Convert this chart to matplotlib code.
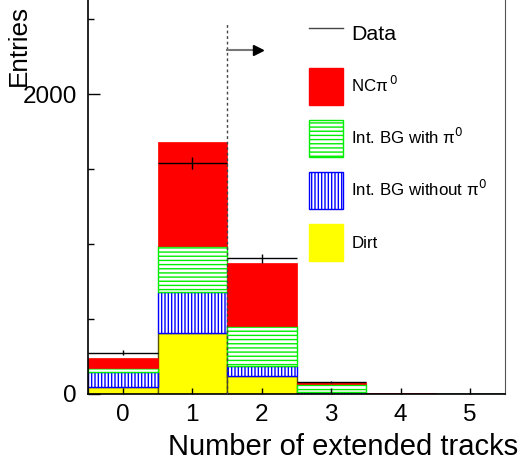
import matplotlib
matplotlib.use("Agg")
import matplotlib.pyplot as plt
from matplotlib.ticker import MultipleLocator
from matplotlib.lines import Line2D
from matplotlib.patches import Patch

plt.rcParams['font.family'] = ['Liberation Sans', 'DejaVu Sans']

# ---- data ----
n_tracks = [0, 1, 2, 3, 4, 5]
dirt = [49, 409, 120, 2, 0, 0]
bg_without_pi0 = [100, 273, 67, 11, 0, 0]
bg_with_pi0 = [26, 307, 266, 51, 0, 0]
nc_pi0 = [63, 691, 422, 14, 6, 0]
data_vals = [275, 1540, 904, 80, 2, 0]
data_err = [17, 39, 30, 9, 1, 0]
cut_value = 1.5

legend_labels = ["Data", "NCπ$^{\\,0}$", "Int. BG with π$^{0}$", "Int. BG without π$^{0}$", "Dirt"]

fig = plt.figure(figsize=(5.2, 4.67), dpi=100)
ax = fig.add_axes([88/520, 73/467, 417/520, 394/467])

b0 = dirt
b1 = [a + b for a, b in zip(b0, bg_without_pi0)]
b2 = [a + b for a, b in zip(b1, bg_with_pi0)]

ax.bar(n_tracks, dirt, width=1.0, color='#ffff00', edgecolor='#555500', linewidth=1.0)
ax.bar(n_tracks, bg_without_pi0, bottom=b0, width=1.0, color='white',
       edgecolor='#0000ff', hatch='|||||', linewidth=1.0)
ax.bar(n_tracks, bg_with_pi0, bottom=b1, width=1.0, color='white',
       edgecolor='#00ee00', hatch='----', linewidth=1.0)
ax.bar(n_tracks, nc_pi0, bottom=b2, width=1.0, color='#ff0000',
       edgecolor='#ff0000', linewidth=0.5)

ax.errorbar(n_tracks, data_vals, xerr=0.5, yerr=data_err, fmt='none',
            ecolor='black', elinewidth=1.0, capsize=0, zorder=5)

# cut line and arrow
ax.plot([cut_value, cut_value], [0, 2480], color='#444444', linestyle=(0, (2, 2)),
        linewidth=1.0, zorder=6)
ax.plot([cut_value, cut_value + 0.40], [2293, 2293], color='#777777', linewidth=1.5, zorder=6)
ax.plot([cut_value + 0.45], [2293], marker='>', color='black', markersize=7, zorder=6)

ax.set_xlim(-0.5, 5.5)
ax.set_ylim(0, 2627)

ax.yaxis.set_major_locator(MultipleLocator(2000))
ax.yaxis.set_minor_locator(MultipleLocator(500))
ax.set_xticks(n_tracks)

ax.tick_params(axis='y', which='major', direction='in', length=8.6, width=1.0,
               labelsize=17.5, pad=8)
ax.tick_params(axis='y', which='minor', direction='in', length=4.3, width=1.0)
ax.tick_params(axis='x', which='major', direction='in', length=4, width=1.0,
               labelsize=17.5, pad=7)

ax.spines['top'].set_visible(False)
ax.spines['right'].set_color('#555555')
ax.spines['left'].set_linewidth(1.2)
ax.spines['bottom'].set_linewidth(1.2)

ax.set_xlabel("Number of extended tracks", fontsize=21, ha='right')
ax.xaxis.set_label_coords(1.031, -0.135)
ax.xaxis.label.set_va('center')
ax.set_ylabel("Entries", fontsize=18.8, ha='right')
ax.yaxis.set_label_coords(-0.165, 0.987)
ax.yaxis.label.set_va('center')

handles = [
    Line2D([0], [0], color='#444444', linewidth=1.0),
    Patch(facecolor='#ff0000', edgecolor='#ff0000'),
    Patch(facecolor='white', edgecolor='#00ee00', hatch='----'),
    Patch(facecolor='white', edgecolor='#0000ff', hatch='|||||'),
    Patch(facecolor='#ffff00', edgecolor='#ffff00'),
]
leg = ax.legend(handles, legend_labels, loc='upper left', bbox_to_anchor=(0.530, 0.958),
                frameon=False, fontsize=12.2, handlelength=2.0, handleheight=2.98,
                labelspacing=0.88, handletextpad=0.5, borderpad=0, borderaxespad=0)
leg.get_texts()[0].set_fontsize(15.4)

fig.savefig("out.png", dpi=100)
